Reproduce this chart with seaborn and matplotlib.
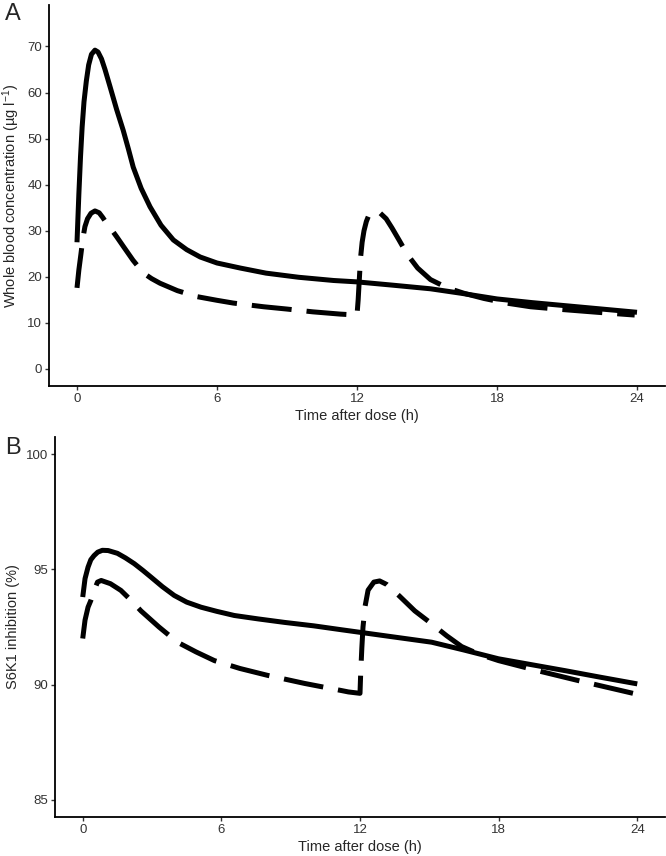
"""
Whole blood concentration (A) and S6K1 inhibition (B) over 24 h,
solid = once daily, dashed = twice daily dosing
"""

import numpy as np
import pandas as pd
import matplotlib

matplotlib.use("Agg")
import matplotlib.pyplot as plt
import seaborn as sns

# ------------------------------#
# Data

# Panel A - once daily (solid)
conc_daily_t = [0, 0.08, 0.15, 0.22, 0.3, 0.4, 0.5, 0.62, 0.77, 0.9, 1.05, 1.2, 1.42,
                1.7, 1.98, 2.2, 2.41, 2.75, 3.13, 3.6, 4.13, 4.7, 5.28, 6.0, 7.0,
                8.1, 9.5, 11.0, 12.0, 13.5, 15.15, 16.5, 18.0, 19.5, 21.0, 22.5, 24.0]
conc_daily = [27.5, 38, 46, 52.5, 58, 62.5, 66, 68.3, 69.2, 68.8, 67.3, 65, 61.2,
              56.3, 51.8, 47.8, 43.8, 39.2, 35.2, 31.2, 28.0, 25.9, 24.3, 23.0, 21.9,
              20.8, 19.9, 19.2, 18.9, 18.2, 17.4, 16.4, 15.2, 14.4, 13.7, 13.0, 12.3]

# Panel A - twice daily (dashed)
conc_bid_t = [0, 0.08, 0.17, 0.25, 0.34, 0.45, 0.6, 0.77, 0.95, 1.1, 1.27, 1.5, 1.7,
              2.0, 2.4, 2.85, 3.2, 3.56, 4.3, 5.14, 6.0, 6.7, 8.0, 9.0, 10.1, 11.3,
              12.0, 12.05, 12.1, 12.15, 12.22, 12.3, 12.4, 12.5, 12.75, 13.0, 13.25,
              13.5, 13.8, 14.15, 14.6, 15.15, 15.87, 16.6, 17.44, 18.4, 19.44, 20.8,
              22.3, 23.9]
conc_bid = [17.6, 21.5, 25.0, 28.3, 30.9, 32.6, 33.8, 34.3, 33.9, 32.9, 31.6, 30.1,
            28.7, 26.5, 23.6, 20.8, 19.6, 18.6, 17.0, 15.7, 14.9, 14.3, 13.5, 13.0,
            12.4, 11.9, 11.7, 15.0, 19.5, 24.0, 27.5, 30.0, 32.0, 33.3, 34.3, 33.8,
            32.6, 30.6, 28.0, 24.9, 21.9, 19.4, 17.6, 16.4, 15.3, 14.3, 13.5, 12.9,
            12.3, 11.7]

# Panel B - once daily (solid)
inh_daily_t = [0, 0.1, 0.23, 0.35, 0.49, 0.65, 0.85, 1.1, 1.5, 1.85, 2.23, 2.6,
               2.95, 3.45, 3.96, 4.5, 5.12, 5.8, 6.56, 7.6, 8.73, 10.0, 11.2, 12.5,
               13.8, 15.1, 16.5, 17.99, 19.5, 20.9, 22.4, 24.0]
inh_daily = [93.8, 94.6, 95.1, 95.42, 95.6, 95.75, 95.83, 95.82, 95.7, 95.5, 95.25,
             94.96, 94.67, 94.25, 93.87, 93.58, 93.36, 93.18, 93.0, 92.85, 92.7,
             92.55, 92.38, 92.2, 92.02, 91.84, 91.5, 91.12, 90.85, 90.6, 90.32, 90.03]

# Panel B - twice daily (dashed)
inh_bid_t = [0, 0.1, 0.23, 0.35, 0.5, 0.64, 0.8, 1.2, 1.65, 2.1, 2.52, 3.3, 4.1,
             4.9, 5.7, 6.8, 8.0, 9.6, 11.2, 11.5, 12.0, 12.03, 12.08, 12.13, 12.22,
             12.35, 12.6, 12.85, 13.15, 13.7, 14.37, 15.1, 15.75, 16.4, 17.2, 18.0,
             19.7, 21.46, 23.9]
inh_bid = [92.0, 92.8, 93.36, 93.65, 94.1, 94.45, 94.52, 94.38, 94.09, 93.65, 93.2,
           92.5, 91.84, 91.42, 91.04, 90.7, 90.4, 90.05, 89.74, 89.68, 89.62, 90.5,
           91.6, 92.5, 93.4, 94.1, 94.45, 94.5, 94.35, 93.85, 93.2, 92.64, 92.12,
           91.65, 91.3, 91.04, 90.6, 90.17, 89.6]

x_ticks = [0, 6, 12, 18, 24]
conc_ticks = [0, 10, 20, 30, 40, 50, 60, 70]
inh_ticks = [85, 90, 95, 100]

# ------------------------------#
# Style

sns.set_theme(style="ticks")
plt.rcParams["font.family"] = ["Liberation Sans", "DejaVu Sans"]
plt.rcParams["mathtext.fontset"] = "custom"
plt.rcParams["mathtext.rm"] = "Liberation Sans"
plt.rcParams["mathtext.it"] = "Liberation Sans:italic"

lw = 3.6
line_kws = dict(color="black", linewidth=lw, solid_capstyle="butt",
                dash_capstyle="butt", solid_joinstyle="round")


def draw_panel(ax, t1, y1, t2, y2, ylim, yticks, ylabel):
    sns.lineplot(x=np.array(t1), y=np.array(y1), ax=ax, sort=False,
                 estimator=None, **line_kws)
    sns.lineplot(x=np.array(t2), y=np.array(y2), ax=ax, sort=False,
                 estimator=None, linestyle=(0, (8, 3)), **line_kws)
    ax.set_xlim(-1.2, 25.2)
    ax.set_ylim(*ylim)
    ax.set_xticks(x_ticks)
    ax.set_yticks(yticks)
    ax.set_xlabel("Time after dose (h)", fontsize=10.5, labelpad=3)
    ax.set_ylabel(ylabel, fontsize=10.5, labelpad=4)
    ax.tick_params(axis="both", labelsize=9.5, labelcolor="#333333",
                   length=3, width=1.0, pad=2, color="#333333")
    sns.despine(ax=ax)
    for side in ["left", "bottom"]:
        ax.spines[side].set_linewidth(1.3)
        ax.spines[side].set_color("black")


fig = plt.figure(figsize=(6.66, 8.56), dpi=100)

ax_a = fig.add_axes([49 / 666, (856 - 386) / 856, (665 - 49) / 666, (386 - 5) / 856])
draw_panel(ax_a, conc_daily_t, conc_daily, conc_bid_t, conc_bid,
           (-3.7, 79), conc_ticks, r"Whole blood concentration (µg l$^{-1}$)")

ax_b = fig.add_axes([55 / 666, (856 - 817) / 856, (665 - 55) / 666, (817 - 437) / 856])
draw_panel(ax_b, inh_daily_t, inh_daily, inh_bid_t, inh_bid,
           (84.25, 100.75), inh_ticks, "S6K1 inhibition (%)")

fig.text(5 / 666, 1 - 3 / 856, "A", fontsize=17, va="top", ha="left")
fig.text(5 / 666, 1 - 437 / 856, "B", fontsize=17, va="top", ha="left")

fig.savefig("out.png", dpi=100)
